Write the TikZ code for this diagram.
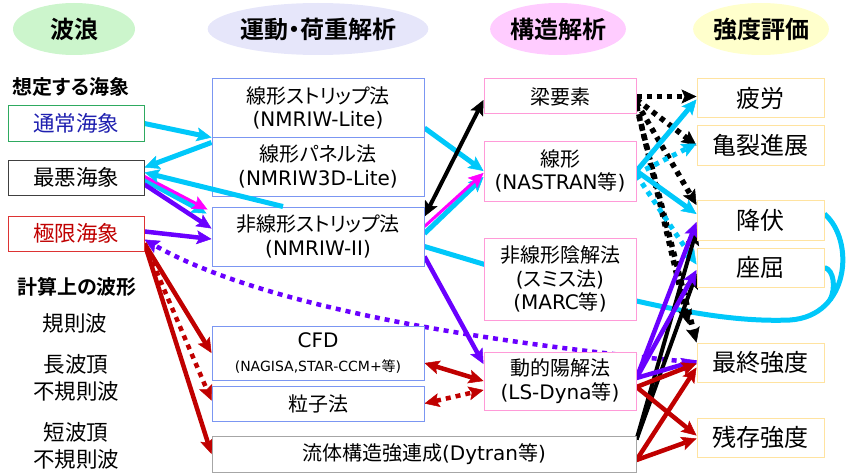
\documentclass[tikz,border=0pt]{standalone}
\usepackage{fontspec}
\setmainfont{Noto Sans CJK JP}[BoldFont={Noto Sans CJK JP Bold},RawFeature=+palt]
\newfontfamily\lat{DejaVu Sans}
\usetikzlibrary{arrows.meta,shapes.geometric,calc}
\pgfdeclarelayer{bg}\pgfsetlayers{bg,main}
\definecolor{cy}{HTML}{00C8FA}
\definecolor{pu}{HTML}{6A00FF}
\definecolor{mg}{HTML}{FF00FF}
\definecolor{rd}{HTML}{C00000}
\definecolor{bbox}{HTML}{7B96F2}
\definecolor{pbox}{HTML}{FF9AD8}
\definecolor{ybox}{HTML}{FFE3A0}
\definecolor{gbord}{HTML}{2EAA60}
\definecolor{btext}{HTML}{1F20B0}
\definecolor{rbord}{HTML}{DD3333}
\definecolor{gre}{HTML}{CCF5CC}
\definecolor{lav}{HTML}{E6E6FA}
\definecolor{pnk}{HTML}{FFCCFF}
\definecolor{yel}{HTML}{FFFFCC}
\begin{document}
\begin{tikzpicture}[x=1pt,y=-1pt,
  hdr/.style={ellipse, draw=none, minimum width=#1, minimum height=52pt, inner sep=0pt, font=\fontsize{24}{28}\selectfont\bfseries},
  box/.style={draw, fill=white, line width=1pt, inner sep=0pt, align=center, font=\fontsize{20}{23.5}\selectfont},
  mbox/.style={box, draw=bbox, minimum width=212pt},
  sbox/.style={box, draw=pbox, minimum width=152pt},
  rbox/.style={box, draw=ybox, minimum width=127pt, minimum height=39pt, font=\fontsize{24}{28}\selectfont},
  lbox/.style={box, minimum width=136pt, minimum height=35pt, font=\fontsize{21.5}{25}\selectfont},
  lbl/.style={inner sep=0pt, align=center, font=\fontsize{21.5}{26.5}\selectfont},
  blbl/.style={inner sep=0pt, font=\fontsize{20}{24}\selectfont\bfseries},
  arr/.style={-{Stealth[length=15pt,width=14pt,inset=3pt,line width=0.5pt]}},
  dbl/.style={{Stealth[length=15pt,width=14pt,inset=3pt,line width=0.5pt]}-{Stealth[length=15pt,width=14pt,inset=3pt,line width=0.5pt]}},
  cyl/.style={draw=cy, line width=5pt},
  pul/.style={draw=pu, line width=4.5pt},
  rdl/.style={draw=rd, line width=4.5pt},
  bkl/.style={draw=black, line width=4pt},
  bkd/.style={draw=black, line width=5.5pt},
  mgl/.style={draw=mg, line width=3pt},
  dots/.style={dash pattern=on 5pt off 5pt}]
\useasboundingbox (0,0) rectangle (848,476);

% headers
\node[hdr=122pt, fill=gre] (h1) at (74,29) {波浪};
\node[hdr=178pt, fill=lav] (h2) at (318,29) {運動・荷重解析};
\node[hdr=122pt, fill=pnk] (h3) at (558,29) {構造解析};
\node[hdr=130pt, fill=yel] (h4) at (761,29) {強度評価};

% left column
\node[blbl] (t1) at (71,87) {想定する海象};
\node[lbox, draw=gbord, text=btext] (normal) at (76,123.5) {通常海象};
\node[lbox, draw=black!75] (worst) at (76,177.5) {最悪海象};
\node[lbox, draw=rbord, text=rd] (extreme) at (76,233.5) {極限海象};
\node[blbl] (t2) at (77,287) {計算上の波形};
\node[lbl] (w1) at (75,323) {規則波};
\node[lbl] (w2) at (76,378) {長波頂\\不規則波};
\node[lbl] (w3) at (76,446) {短波頂\\不規則波};

% motion/load column
\node[mbox, minimum height=58pt] (lite) at (318,108) {線形ストリップ法\\{\lat (NMRIW-Lite)}};
\node[mbox, minimum height=59pt] (panel) at (318,166.5) {線形パネル法\\{\lat (NMRIW3D-Lite)}};
\node[mbox, minimum height=59pt] (nls) at (318,236.5) {非線形ストリップ法\\{\lat (NMRIW-II)}};
\node[mbox, minimum height=54pt] (cfd) at (318,353) {{\lat CFD}\\{\fontsize{14}{17}\selectfont{\lat (NAGISA,STAR-CCM+}等{\lat )}}};
\node[mbox, minimum height=35pt] (ptcl) at (318,403.5) {粒子法};
\node[box, draw=black!35, minimum width=424pt, minimum height=36pt] (fsi) at (424,454) {流体構造強連成{\lat (Dytran}等{\lat )}};

% structure column
\node[sbox, minimum height=35pt] (beam) at (560,96.5) {梁要素};
\node[sbox, minimum height=60pt] (lin) at (560,171) {線形\\{\lat (NASTRAN}等{\lat )}};
\node[sbox, minimum height=82pt] (nlimp) at (560,279) {非線形陰解法\\{\lat (}スミス法{\lat )}\\{\lat (MARC}等{\lat )}};
\node[sbox, minimum height=58pt] (dyn) at (560,381) {動的陽解法\\{\lat (LS-Dyna}等{\lat )}};

% strength column
\node[rbox] (fat) at (760.5,98.5) {疲労};
\node[rbox] (crack) at (760.5,145.5) {亀裂進展};
\node[rbox, minimum height=40pt] (yield) at (760.5,220) {降伏};
\node[rbox] (buck) at (760.5,267.5) {座屈};
\node[rbox] (ult) at (760.5,362.5) {最終強度};
\node[rbox] (res) at (760.5,437.5) {残存強度};

\begin{pgfonlayer}{bg}
% long cyan curve to yield / buckling
\draw[cyl] ([yshift=-10pt]nls.east) -- ([yshift=-8pt]nlimp.center) -- ([yshift=-22pt]nlimp.east)
  .. controls (690,313) and (740,322) .. (790,320)
  .. controls (850,316) and (855,240) .. ([yshift=6pt]yield.east);
\coordinate (join) at (830,300);
\draw[cyl] (buck.east) .. controls (834,270) and (836,288) .. (join);

% waves -> motion
\draw[cyl, arr] (normal.east) -- (lite.south west);
\draw[cyl, arr] ([yshift=-6pt]panel.north west) -- ([yshift=10pt]worst.east);
\draw[cyl, arr] ([yshift=-2.5pt]worst.east) -- ([xshift=-5pt,yshift=-7pt]nls.north west);
\draw[mgl, arr] ([yshift=1pt]worst.east) -- ([xshift=-4pt,yshift=-3pt]nls.north west);
\draw[pul, arr] ([yshift=-7pt]worst.east) -- ([yshift=8pt]nls.west);
\draw[pul, arr] ([yshift=2pt]extreme.east) -- ([yshift=-2.5pt]nls.west);
\draw[pul, dots, arr] (ult.west) .. controls (450,340) and (250,300) .. ([yshift=-6pt]extreme.east);
\draw[rdl, arr] ([yshift=-10pt]extreme.east) -- (cfd.west);
\draw[rdl, dots, arr] ([yshift=-10pt]extreme.east) -- ([yshift=3pt]ptcl.west);
\draw[rdl, arr] ([yshift=-10pt]extreme.east) -- (fsi.west);

% motion -> structure
\draw[cyl, arr] ([yshift=-20pt]lite.east) -- (lin.west);
\draw[bkl, dbl] ([yshift=-10pt]nls.north east) -- ([yshift=-3.5pt]beam.west);
\draw[cyl, arr] ([yshift=3pt]nls.east) -- ([yshift=-6pt]lin.west);
\draw[mgl, arr] ([yshift=10pt]nls.east) -- ([yshift=-2pt]lin.west);
\draw[pul, arr] ([yshift=-20pt]nls.east) -- ([yshift=17pt]dyn.west);
\draw[rdl, dbl] ([yshift=-10pt]cfd.east) -- (dyn.west);
\draw[rdl, dots, dbl] (ptcl.east) -- ([yshift=-9pt]dyn.west);

% beam -> strength (dotted black)
\draw[bkd, dots, arr] (beam.east) -- ([yshift=2pt]fat.west);
\draw[bkd, dots, arr] ([yshift=-3pt]beam.east) -- (crack.west);
\draw[bkd, dots, arr] ([yshift=-6pt]beam.east) -- ([yshift=15pt]yield.west);
\draw[bkd, dots, arr] ([yshift=-8pt]beam.east) -- ([xshift=-8pt,yshift=18pt]ult.north west);
\draw[bkd, dots, arr] ([yshift=-10pt]beam.east) -- (ult.north west);

% linear -> strength (cyan)
\draw[cyl, arr] (lin.east) -- ([yshift=-1pt]fat.west);
\draw[cyl, dots, arr] ([yshift=-3pt]lin.east) -- ([yshift=2pt]crack.west);
\draw[cyl, arr] (lin.east) -- ([yshift=6pt]yield.west);
\draw[cyl, dots, arr] ([yshift=-4pt]lin.east) -- ([yshift=3pt]buck.west);

% FSI -> strength (black)
\draw[bkl, arr] ([yshift=-4pt]fsi.north east) -- ([yshift=-10pt]yield.west);
\draw[bkl, arr] ([yshift=-4pt]fsi.north east) -- ([yshift=-6pt]buck.west);

% dynamic explicit -> strength (purple)
\draw[pul, arr] ([yshift=3pt]dyn.east) -- ([yshift=-2pt]yield.west);
\draw[pul, arr] ([yshift=3pt]dyn.east) -- ([yshift=-2.5pt]buck.west);
\draw[pul, arr] ([yshift=3pt]dyn.east) -- ([yshift=2pt]ult.west);

% red -> ultimate / residual
\draw[rdl, arr] ([yshift=-6pt]dyn.east) -- ([yshift=-1pt]ult.west);
\draw[rdl, arr] ([yshift=-6pt]dyn.east) -- ([yshift=2pt]res.west);
\draw[rdl, arr] ([yshift=-6pt]fsi.east) -- ([yshift=-5pt]ult.west);
\draw[rdl, arr] ([yshift=-6pt]fsi.east) -- ([yshift=-1pt]res.west);
\end{pgfonlayer}

% cyan line drawn over the panel box corner
\draw[cyl, arr] ([xshift=-35pt]nls.north) -- ([yshift=5pt]worst.east);
\end{tikzpicture}
\end{document}
